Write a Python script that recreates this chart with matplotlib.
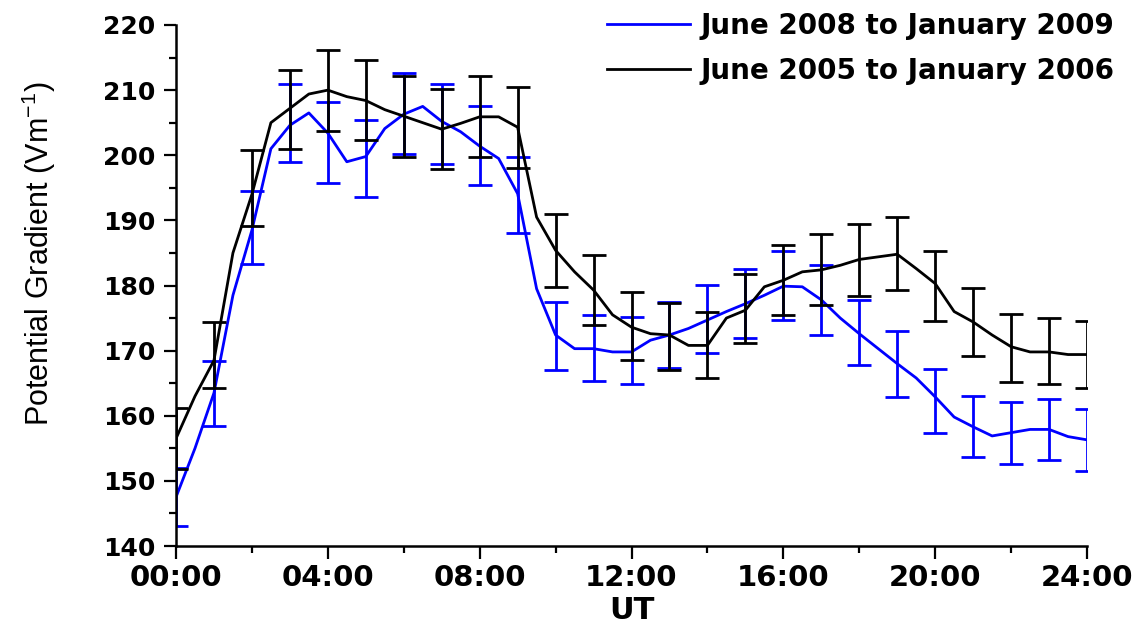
import numpy as np
import matplotlib
matplotlib.use("Agg")
import matplotlib.pyplot as plt

# Curvas (cada media hora)
horas_linea = np.arange(0, 24.5, 0.5)
pg_2008 = [147.5, 155.0, 163.5, 178.5, 188.5, 201.0, 204.6, 206.5, 203.4, 199.0,
           199.8, 204.1, 206.3, 207.5, 205.2, 203.6, 201.4, 199.5, 194.1, 179.5,
           172.4, 170.3, 170.3, 169.8, 169.8, 171.6, 172.4, 173.4, 174.7, 176.0,
           177.2, 178.5, 179.9, 179.8, 177.8, 175.0, 172.6, 170.3, 168.0, 165.8,
           162.9, 159.8, 158.3, 156.9, 157.4, 157.9, 157.9, 156.8, 156.3]
pg_2005 = [156.5, 163.0, 168.5, 185.0, 194.0, 205.0, 207.2, 209.4, 210.0, 209.0,
           208.4, 207.0, 206.0, 205.0, 204.0, 204.9, 205.9, 205.9, 204.3, 190.5,
           185.4, 182.1, 179.3, 175.5, 173.6, 172.6, 172.4, 170.8, 170.8, 175.0,
           176.2, 179.8, 180.8, 182.1, 182.4, 183.1, 184.0, 184.4, 184.8, 182.6,
           180.3, 176.0, 174.4, 172.4, 170.6, 169.8, 169.8, 169.4, 169.4]

# Barras de error (cada hora)
horas_err = np.arange(0, 25)
centro_2008 = [147.5, 163.4, 188.9, 205.0, 202.0, 199.5, 206.4, 204.8, 201.5, 193.9,
               172.3, 170.4, 170.0, 172.4, 174.9, 177.3, 180.0, 177.8, 172.8, 167.9,
               162.3, 158.3, 157.3, 157.9, 156.3]
error_2008 = [4.5, 5.0, 5.6, 6.0, 6.2, 5.9, 6.2, 6.2, 6.0, 5.8,
              5.2, 5.1, 5.1, 5.1, 5.2, 5.3, 5.3, 5.35, 5.05, 5.05,
              4.9, 4.7, 4.75, 4.7, 4.8]
centro_2005 = [156.5, 169.3, 195.0, 207.0, 210.0, 208.5, 206.0, 204.0, 205.9, 204.3,
               185.4, 179.3, 173.8, 172.2, 170.9, 176.4, 180.8, 182.4, 183.9, 184.9,
               179.9, 174.4, 170.4, 169.9, 169.4]
error_2005 = [4.7, 5.05, 5.8, 6.1, 6.2, 6.1, 6.2, 6.1, 6.2, 6.2,
              5.6, 5.4, 5.2, 5.1, 5.1, 5.3, 5.4, 5.45, 5.55, 5.6,
              5.4, 5.2, 5.2, 5.1, 5.1]

etiquetas_x = ["00:00", "04:00", "08:00", "12:00", "16:00", "20:00", "24:00"]
ticks_x = [0, 4, 8, 12, 16, 20, 24]

fig = plt.figure(figsize=(11.41, 6.29), dpi=100)
ax = fig.add_axes([176/1141, 83/629, 911/1141, 521/629])

ax.plot(horas_linea, pg_2008, color="#0000ff", lw=2.0, label="June 2008 to January 2009")
ax.errorbar(horas_err, centro_2008, yerr=error_2008, fmt="none", ecolor="#0000ff",
            elinewidth=2.0, capsize=8.5, capthick=2.0)
ax.plot(horas_linea, pg_2005, color="black", lw=2.0, label="June 2005 to January 2006")
ax.errorbar(horas_err, centro_2005, yerr=error_2005, fmt="none", ecolor="black",
            elinewidth=2.0, capsize=8.5, capthick=2.0)

ax.set_xlim(0, 24)
ax.set_ylim(140, 220)
ax.set_xticks(ticks_x)
ax.set_xticklabels(etiquetas_x)
ax.set_xticks(np.arange(0, 25, 2), minor=True)
ax.set_yticks(np.arange(140, 221, 10))
ax.set_yticks(np.arange(140, 221, 5), minor=True)

for s in ["top", "right"]:
    ax.spines[s].set_visible(False)
for s in ["left", "bottom"]:
    ax.spines[s].set_linewidth(1.8)

ax.tick_params(which="major", direction="out", length=9, width=1.6)
ax.tick_params(which="minor", direction="out", length=5, width=1.6)
for lab in ax.get_yticklabels():
    lab.set_fontsize(18)
    lab.set_fontweight("bold")
    lab.set_family("DejaVu Sans")
for lab in ax.get_xticklabels():
    lab.set_fontsize(21)
    lab.set_fontweight("bold")
    lab.set_family("DejaVu Sans")
ax.tick_params(axis="y", pad=6)
ax.tick_params(axis="x", pad=4)

ax.set_xlabel("UT", fontsize=22, fontweight="bold", family="DejaVu Sans", labelpad=3)
ax.set_ylabel("Potential Gradient (Vm$^{\\mathregular{-1}}$)", fontsize=22,
              family=["Liberation Sans Narrow", "Liberation Sans"])
ax.yaxis.set_label_coords(-0.13, 0.56)

fig.legend(loc="upper right", bbox_to_anchor=(1128/1141, 1 + 2/629), frameon=False,
           prop={"family": "DejaVu Sans", "weight": "bold", "size": 20},
           handlelength=3.0, handletextpad=0.35, labelspacing=0.6, borderpad=0)

fig.savefig("out.png", dpi=100)
